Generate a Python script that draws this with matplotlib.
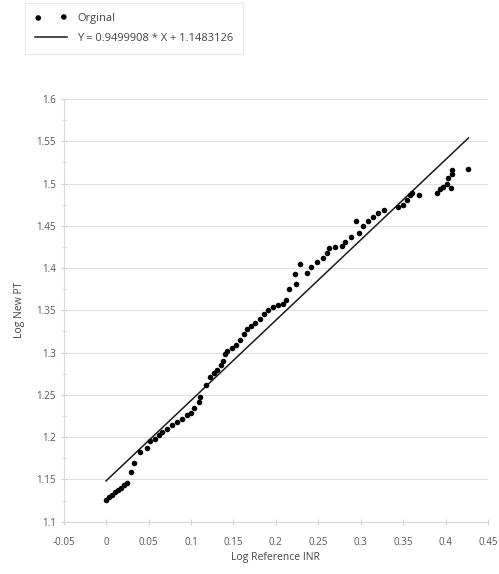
import matplotlib.pyplot as plt
from matplotlib.ticker import MultipleLocator, FuncFormatter

# Log reference INR vs log new PT
log_inr = [0.000, 0.004, 0.007, 0.011, 0.014, 0.018, 0.021, 0.025,
           0.029, 0.033, 0.040, 0.048, 0.052, 0.058, 0.062, 0.066,
           0.072, 0.078, 0.084, 0.089, 0.095, 0.100, 0.104, 0.109,
           0.111, 0.118, 0.123, 0.127, 0.131, 0.135, 0.138, 0.140,
           0.143, 0.148, 0.153, 0.158, 0.162, 0.166, 0.171, 0.176,
           0.181, 0.186, 0.191, 0.197, 0.203, 0.208, 0.212, 0.215,
           0.224, 0.223, 0.228, 0.237, 0.241, 0.249, 0.255, 0.260,
           0.263, 0.270, 0.278, 0.282, 0.288, 0.294, 0.298, 0.303,
           0.309, 0.315, 0.320, 0.327, 0.344, 0.350, 0.354, 0.358,
           0.361, 0.369, 0.390, 0.394, 0.397, 0.402, 0.403, 0.406,
           0.407, 0.408, 0.427]
log_pt = [1.126, 1.129, 1.132, 1.135, 1.138, 1.140, 1.143, 1.146,
          1.159, 1.170, 1.182, 1.187, 1.195, 1.198, 1.203, 1.206,
          1.210, 1.214, 1.218, 1.222, 1.226, 1.229, 1.235, 1.242,
          1.248, 1.262, 1.271, 1.276, 1.280, 1.285, 1.290, 1.298,
          1.302, 1.306, 1.309, 1.315, 1.322, 1.328, 1.331, 1.335,
          1.340, 1.346, 1.351, 1.354, 1.356, 1.357, 1.362, 1.375,
          1.381, 1.393, 1.405, 1.394, 1.401, 1.407, 1.412, 1.418,
          1.424, 1.425, 1.426, 1.431, 1.437, 1.456, 1.441, 1.450,
          1.456, 1.461, 1.465, 1.469, 1.472, 1.475, 1.480, 1.486,
          1.489, 1.487, 1.489, 1.494, 1.496, 1.500, 1.506, 1.495,
          1.511, 1.516, 1.517]

# fitted line
slope = 0.9499908
intercept = 1.1483126
fit_x = [0.0, 0.427]
fit_y = [slope * v + intercept for v in fit_x]

plt.rcParams['font.family'] = ['Open Sans', 'DejaVu Sans']

fig = plt.figure(figsize=(4.99, 5.74), dpi=100)
ax = fig.add_axes([0.1275, 0.0911, 0.8505, 0.7364])

pts = ax.scatter(log_inr, log_pt, s=16, color='black', zorder=3, linewidths=0)
ln, = ax.plot(fit_x, fit_y, color='#1a1a1a', lw=1.1, zorder=2)

ax.set_xlim(-0.05, 0.45)
ax.set_ylim(1.1, 1.6)
ax.xaxis.set_major_locator(MultipleLocator(0.05))
ax.yaxis.set_major_locator(MultipleLocator(0.05))
ax.yaxis.set_minor_locator(MultipleLocator(0.025))

fmt = FuncFormatter(lambda v, p: ('%.2f' % v).rstrip('0').rstrip('.') if abs(v) > 1e-9 else '0')
ax.xaxis.set_major_formatter(fmt)
ax.yaxis.set_major_formatter(fmt)

ax.grid(axis='y', color='#e0e0e0', lw=0.8)
ax.set_axisbelow(True)
for side in ['top', 'right']:
    ax.spines[side].set_visible(False)
for side in ['left', 'bottom']:
    ax.spines[side].set_color('#d9d9d9')
ax.tick_params(axis='both', which='both', colors='#d0d0d0', labelcolor='#555555',
               labelsize=7, length=4, direction='inout')
ax.tick_params(axis='x', pad=9)
ax.tick_params(axis='y', which='minor', length=3)

ax.set_xlabel('Log Reference INR', fontsize=7.5, color='#444444', labelpad=3)
ax.set_ylabel('Log New PT', fontsize=7.5, color='#444444', labelpad=8)

leg = fig.legend([pts, ln], ['Orginal', 'Y = 0.9499908 * X + 1.1483126'],
                 loc='upper left', bbox_to_anchor=(0.05, 0.995), fontsize=8,
                 scatterpoints=2, frameon=True, fancybox=False,
                 handlelength=2.9, handletextpad=0.9, labelspacing=0.85,
                 borderpad=0.9, borderaxespad=0)
leg.get_frame().set_edgecolor('#e3e3e3')
leg.get_frame().set_linewidth(0.8)
for t in leg.get_texts():
    t.set_color('#444444')

fig.savefig('out.png', dpi=100)
